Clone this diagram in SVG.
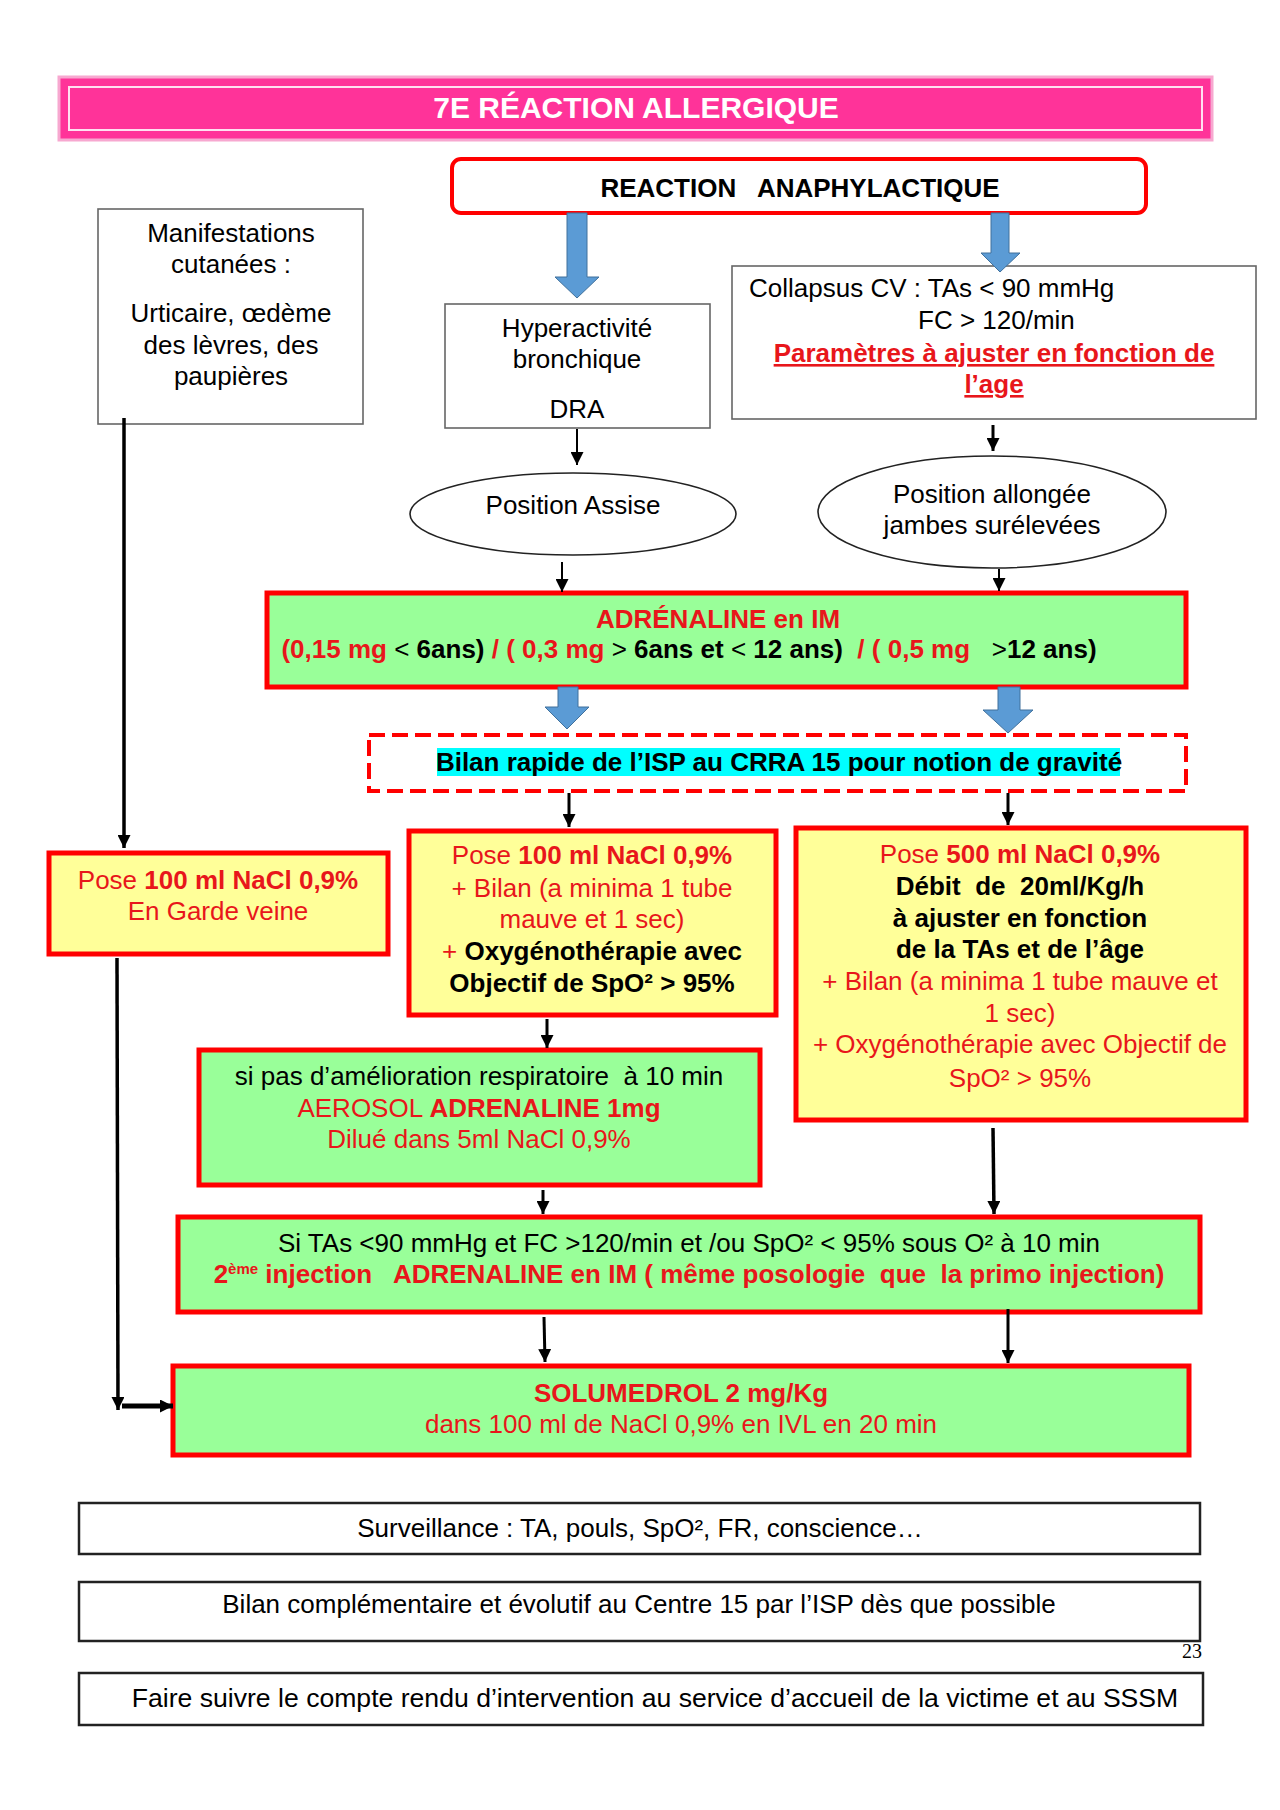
<svg xmlns="http://www.w3.org/2000/svg" width="1280" height="1810" viewBox="0 0 1280 1810">
<style>
text{font-family:"Liberation Sans",Arial,sans-serif;font-size:26px;fill:#000;white-space:pre}
.c{text-anchor:middle}
.b{font-weight:bold}
.r{fill:#E8161B}
.k{fill:#000}
.n{font-weight:normal}
.box{fill:#fff;stroke:#666;stroke-width:1.6}
.ell{fill:#fff;stroke:#222;stroke-width:1.6}
.yel{fill:#FFFF99;stroke:#FF0000;stroke-width:5}
.grn{fill:#99FF99;stroke:#FF0000;stroke-width:5}
.foot{fill:#fff;stroke:#222;stroke-width:2.5}
.ln{stroke:#000;fill:none}
.blue{fill:#5B9BD5;stroke:#41719C;stroke-width:1}
</style>
<defs>
<marker id="ah" viewBox="0 0 10 10" refX="10" refY="5" markerWidth="13" markerHeight="13" markerUnits="userSpaceOnUse" orient="auto">
<path d="M0,0 L10,5 L0,10 z" fill="#000"/>
</marker>
</defs>
<rect width="1280" height="1810" fill="#fff"/>

<g id="title">
<rect x="59" y="77" width="1153" height="63" fill="#FF3399" stroke="#F7A8D0" stroke-width="3"/>
<rect x="69" y="87" width="1133" height="43" fill="none" stroke="#FFE0F0" stroke-width="2"/>
<text x="636" y="118" class="c b" style="font-size:30px;fill:#fff">7E RÉACTION ALLERGIQUE</text>
</g>

<g id="reaction">
<rect x="452" y="159" width="694" height="54" rx="9" fill="#fff" stroke="#FF0000" stroke-width="4"/>
<text x="800" y="197" class="c b">REACTION   ANAPHYLACTIQUE</text>
</g>

<g id="manifestations">
<rect x="98" y="209" width="265" height="215" class="box"/>
<text x="231" y="242" class="c">Manifestations</text>
<text x="231" y="273" class="c">cutanées :</text>
<text x="231" y="322" class="c">Urticaire, œdème</text>
<text x="231" y="354" class="c">des lèvres, des</text>
<text x="231" y="385" class="c">paupières</text>
</g>

<g id="hyperactivite">
<rect x="445" y="304" width="265" height="124" class="box"/>
<text x="577" y="337" class="c">Hyperactivité</text>
<text x="577" y="368" class="c">bronchique</text>
<text x="577" y="418" class="c">DRA</text>
</g>

<g id="collapsus">
<rect x="732" y="266" width="524" height="153" class="box"/>
<text x="749" y="297">Collapsus CV : TAs &lt; 90 mmHg</text>
<text x="918" y="329">FC &gt; 120/min</text>
<text x="994" y="362" class="c b r" text-decoration="underline">Paramètres à ajuster en fonction de</text>
<text x="994" y="393" class="c b r" text-decoration="underline">l’age</text>
</g>

<g id="assise">
<ellipse cx="573" cy="514" rx="163" ry="41" class="ell"/>
<text x="573" y="514" class="c">Position Assise</text>
</g>

<g id="allongee">
<ellipse cx="992" cy="512" rx="174" ry="56" class="ell"/>
<text x="992" y="503" class="c">Position allongée</text>
<text x="992" y="534" class="c">jambes surélevées</text>
</g>

<g id="adrenaline">
<rect x="267" y="593" width="919" height="94" class="grn"/>
<text x="718" y="628" class="c b r">ADRÉNALINE en IM</text>
<text x="689" y="658" class="c b"><tspan class="r">(0,15 mg</tspan><tspan class="n"> &lt; </tspan>6ans)<tspan class="r"> / ( 0,3 mg</tspan><tspan class="n"> &gt; </tspan>6ans et<tspan class="n"> &lt; </tspan>12 ans)<tspan class="r">  / ( 0,5 mg</tspan><tspan class="n">   &gt;</tspan>12 ans)</text>
</g>

<g id="bilan-rapide">
<rect x="369" y="735" width="817" height="56" fill="#fff" stroke="#FF0000" stroke-width="4" stroke-dasharray="16 7"/>
<rect x="437" y="748" width="683" height="28" fill="#00FFFF"/>
<text x="779" y="771" class="c b">Bilan rapide de l’ISP au CRRA 15 pour notion de gravité</text>
</g>

<g id="pose-gauche">
<rect x="49" y="853" width="339" height="101" class="yel"/>
<text x="218" y="889" class="c r">Pose <tspan class="b">100 ml NaCl 0,9%</tspan></text>
<text x="218" y="920" class="c r">En Garde veine</text>
</g>

<g id="pose-milieu">
<rect x="409" y="831" width="367" height="184" class="yel"/>
<text x="592" y="864" class="c r">Pose <tspan class="b">100 ml NaCl 0,9%</tspan></text>
<text x="592" y="897" class="c r">+ Bilan (a minima 1 tube</text>
<text x="592" y="928" class="c r">mauve et 1 sec)</text>
<text x="592" y="960" class="c r">+ <tspan class="b k">Oxygénothérapie avec</tspan></text>
<text x="592" y="992" class="c b">Objectif de SpO² &gt; 95%</text>
</g>

<g id="pose-droite">
<rect x="796" y="828" width="450" height="292" class="yel"/>
<text x="1020" y="863" class="c r">Pose <tspan class="b">500 ml NaCl 0,9%</tspan></text>
<text x="1020" y="895" class="c b">Débit  de  20ml/Kg/h</text>
<text x="1020" y="927" class="c b">à ajuster en fonction</text>
<text x="1020" y="958" class="c b">de la TAs et de l’âge</text>
<text x="1020" y="990" class="c r">+ Bilan (a minima 1 tube mauve et</text>
<text x="1020" y="1022" class="c r">1 sec)</text>
<text x="1020" y="1053" class="c r">+ Oxygénothérapie avec Objectif de</text>
<text x="1020" y="1087" class="c r">SpO² &gt; 95%</text>
</g>

<g id="aerosol">
<rect x="199" y="1050" width="561" height="135" class="grn"/>
<text x="479" y="1085" class="c">si pas d’amélioration respiratoire  à 10 min</text>
<text x="479" y="1117" class="c r">AEROSOL <tspan class="b">ADRENALINE 1mg</tspan></text>
<text x="479" y="1148" class="c r">Dilué dans 5ml NaCl 0,9%</text>
</g>

<g id="deuxieme-injection">
<rect x="178" y="1217" width="1022" height="95" class="grn"/>
<text x="689" y="1252" class="c">Si TAs &lt;90 mmHg et FC &gt;120/min et /ou SpO² &lt; 95% sous O² à 10 min</text>
<text x="689" y="1283" class="c b r">2<tspan dy="-9" style="font-size:15px">ème</tspan><tspan dy="9"> injection   ADRENALINE en IM ( même posologie  que  la primo injection)</tspan></text>
</g>

<g id="solumedrol">
<rect x="173" y="1366" width="1016" height="89" class="grn"/>
<text x="681" y="1402" class="c b r">SOLUMEDROL 2 mg/Kg</text>
<text x="681" y="1433" class="c r">dans 100 ml de NaCl 0,9% en IVL en 20 min</text>
</g>

<g id="surveillance">
<rect x="79" y="1503" width="1121" height="51" class="foot"/>
<text x="640" y="1537" class="c">Surveillance : TA, pouls, SpO², FR, conscience…</text>
</g>

<g id="bilan-complementaire">
<rect x="79" y="1582" width="1121" height="59" class="foot"/>
<text x="639" y="1613" class="c">Bilan complémentaire et évolutif au Centre 15 par l’ISP dès que possible</text>
</g>

<text x="1202" y="1658" style="font-family:'Liberation Serif','Times New Roman',serif;font-size:20px;text-anchor:end">23</text>

<g id="faire-suivre">
<rect x="79" y="1673" width="1124" height="52" class="foot"/>
<text x="655" y="1707" class="c" style="font-size:26.6px">Faire suivre le compte rendu d’intervention au service d’accueil de la victime et au SSSM</text>
</g>

<g id="connectors">
<polygon class="blue" points="567,213 587,213 587,277 599,277 577,298 555,277 567,277"/>
<polygon class="blue" points="991,213 1009,213 1009,253 1020,253 1000,272 981,253 991,253"/>
<polygon class="blue" points="558,687 578,687 578,707 589,707 567,729 545,707 558,707"/>
<polygon class="blue" points="998,687 1020,687 1020,710 1033,710 1008,733 983,710 998,710"/>
<line class="ln" x1="577" y1="429" x2="577" y2="465" stroke-width="2" marker-end="url(#ah)"/>
<line class="ln" x1="993" y1="425" x2="993" y2="451" stroke-width="3" marker-end="url(#ah)"/>
<line class="ln" x1="562" y1="562" x2="562" y2="592" stroke-width="2" marker-end="url(#ah)"/>
<line class="ln" x1="999" y1="569" x2="999" y2="591" stroke-width="2" marker-end="url(#ah)"/>
<line class="ln" x1="124" y1="418" x2="124" y2="848" stroke-width="3.5" marker-end="url(#ah)"/>
<line class="ln" x1="569" y1="793" x2="569" y2="827" stroke-width="3" marker-end="url(#ah)"/>
<line class="ln" x1="1008" y1="793" x2="1008" y2="825" stroke-width="3" marker-end="url(#ah)"/>
<line class="ln" x1="547" y1="1019" x2="547" y2="1048" stroke-width="3" marker-end="url(#ah)"/>
<line class="ln" x1="543" y1="1190" x2="543" y2="1214" stroke-width="3" marker-end="url(#ah)"/>
<line class="ln" x1="993" y1="1128" x2="994" y2="1214" stroke-width="3.5" marker-end="url(#ah)"/>
<line class="ln" x1="544" y1="1317" x2="545" y2="1362" stroke-width="3" marker-end="url(#ah)"/>
<line class="ln" x1="1008" y1="1309" x2="1008" y2="1363" stroke-width="3" marker-end="url(#ah)"/>
<line class="ln" x1="117" y1="958" x2="118" y2="1410" stroke-width="3.5" marker-end="url(#ah)"/>
<line class="ln" x1="122" y1="1406" x2="173" y2="1406" stroke-width="5" marker-end="url(#ah)"/>
</g>
</svg>
